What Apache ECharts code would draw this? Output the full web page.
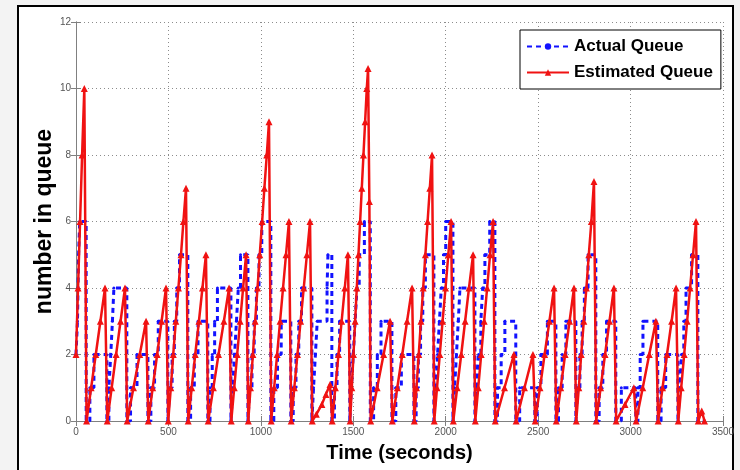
<!DOCTYPE html>
<html>
<head>
<meta charset="utf-8">
<script src="https://cdn.jsdelivr.net/npm/echarts@6/dist/echarts.min.js"></script>
<style>
html,body{margin:0;padding:0;background:#f3f3f3;}
#frame{position:absolute;left:17px;top:5px;width:717px;height:470px;border:2px solid #000;border-bottom:none;background:#fff;box-sizing:border-box;}
#chart{position:absolute;left:0;top:0;width:740px;height:470px;}
</style>
</head>
<body>
<div id="frame"></div>
<div id="chart"></div>
<script>
// ---- data ----
const xTicks = [0, 500, 1000, 1500, 2000, 2500, 3000, 3500];
const yTicks = [0, 2, 4, 6, 8, 10, 12];
const seriesNames = ['Actual Queue', 'Estimated Queue'];

// [time (s), number in queue]
const actualQueue = [
  [0,2],[8,3],[14,5],[20,6],[55,0],
  [75,1],[97,2],[167,0],
  [178,1],[188,2],[197,3],[205,4],[275,0],
  [295,1],[330,2],[389,0],
  [405,1],[425,2],[445,3],[497,0],
  [507,1],[520,2],[532,3],[545,4],[560,5],[605,0],
  [620,1],[640,2],[660,3],[713,0],
  [725,1],[737,2],[750,3],[765,4],[838,0],
  [848,1],[858,2],[868,3],[878,4],[890,5],[930,0],
  [940,1],[952,2],[964,3],[976,4],[990,5],[1005,6],[1054,0],
  [1070,1],[1090,2],[1110,3],[1162,0],
  [1175,1],[1190,2],[1205,3],[1220,4],[1276,0],
  [1285,1],[1295,2],[1305,3],[1358,4],[1363,5],[1384,0],
  [1398,1],[1412,2],[1426,3],[1481,0],
  [1490,1],[1500,2],[1510,3],[1520,4],[1532,5],[1560,6],[1592,0],
  [1610,1],[1630,2],[1650,3],[1709,0],
  [1730,1],[1760,2],[1828,0],
  [1840,1],[1852,2],[1864,3],[1876,4],[1890,5],[1936,0],
  [1946,1],[1956,2],[1966,3],[1976,4],[1988,5],[2000,6],[2039,0],
  [2048,1],[2058,2],[2068,3],[2077,4],[2158,0],
  [2168,1],[2178,2],[2190,3],[2200,4],[2212,5],[2238,6],[2266,0],
  [2280,1],[2300,2],[2320,3],[2379,0],
  [2400,1],[2482,0],
  [2495,1],[2515,2],[2550,3],[2596,0],
  [2610,1],[2630,2],[2650,3],[2704,0],
  [2714,1],[2726,2],[2738,3],[2750,4],[2770,5],[2812,0],
  [2830,1],[2850,2],[2870,3],[2920,0],
  [2950,1],[3028,0],
  [3040,1],[3052,2],[3067,3],[3147,0],
  [3165,1],[3190,2],[3256,0],
  [3266,1],[3276,2],[3288,3],[3300,4],[3330,5],[3364,0],
  [3400,0]
];

const estimatedQueue = [
  [0,2],[11,4],[22,6],[33,8],[45,10],[57,0],
  [82,1],[107,2],[132,3],[157,4],[169,0],
  [193,1],[217,2],[241,3],[265,4],[277,0],
  [311,1],[345,2],[379,3],[391,0],
  [415,1],[439,2],[463,3],[487,4],[499,0],
  [513,1],[526,2],[540,3],[554,4],[568,5],[581,6],[595,7],[607,0],
  [626,1],[645,2],[665,3],[684,4],[703,5],[715,0],
  [743,1],[771,2],[800,3],[828,4],[840,0],
  [856,1],[872,2],[888,3],[904,4],[920,5],[932,0],
  [944,1],[957,2],[969,3],[982,4],[994,5],[1007,6],[1019,7],[1032,8],[1044,9],[1056,0],
  [1072,1],[1088,2],[1104,3],[1120,4],[1136,5],[1152,6],[1164,0],
  [1181,1],[1198,2],[1215,3],[1232,4],[1249,5],[1266,6],[1278,0],
  [1300,0.2],[1330,0.5],[1352,0.8],[1374,1.1],[1386,0],
  [1403,1],[1420,2],[1437,3],[1454,4],[1471,5],[1483,0],
  [1492,1],[1501,2],[1510,3],[1519,4],[1528,5],[1537,6],[1546,7],[1555,8],[1564,9],[1573,10],[1580,10.6],[1587,6.6],[1594,0],
  [1629,1],[1664,2],[1699,3],[1711,0],
  [1738,1],[1765,2],[1791,3],[1818,4],[1830,0],
  [1842,1],[1854,2],[1866,3],[1878,4],[1890,5],[1902,6],[1914,7],[1926,8],[1938,0],
  [1953,1],[1968,2],[1983,3],[1999,4],[2014,5],[2029,6],[2041,0],
  [2062,1],[2084,2],[2105,3],[2126,4],[2148,5],[2160,0],
  [2176,1],[2192,2],[2208,3],[2224,4],[2240,5],[2256,6],[2268,0],
  [2318,1],[2369,2],[2381,0],
  [2426,1],[2472,2],[2484,0],
  [2510,1],[2535,2],[2561,3],[2586,4],[2598,0],
  [2622,1],[2646,2],[2670,3],[2694,4],[2706,0],
  [2720,1],[2733,2],[2747,3],[2761,4],[2774,5],[2788,6],[2802,7.2],[2814,0],
  [2838,1],[2862,2],[2886,3],[2910,4],[2922,0],
  [2970,0.5],[3018,1],[3030,0],
  [3066,1],[3101,2],[3137,3],[3149,0],
  [3173,1],[3197,2],[3222,3],[3246,4],[3258,0],
  [3274,1],[3290,2],[3306,3],[3322,4],[3338,5],[3354,6],[3366,0],
  [3385,0.3],[3400,0]
];

// ---- chart ----
const chart = echarts.init(document.getElementById('chart'), null, {renderer: 'canvas'});
const FONT = '"Liberation Sans", Arial, sans-serif';
const xMin = xTicks[0], xMax = xTicks[xTicks.length - 1], xStep = xTicks[1] - xTicks[0];
const yMin = yTicks[0], yMax = yTicks[yTicks.length - 1], yStep = yTicks[1] - yTicks[0];
const axisGray = '#808080';
const gridLine = {show: true, lineStyle: {color: '#8c8c8c', type: [1, 3], width: 1}};
const plain = v => String(v);

chart.setOption({
  animation: false,
  backgroundColor: 'transparent',
  grid: {left: 76, right: 17, top: 22, bottom: 49, containLabel: false},
  legend: {
    data: seriesNames,
    orient: 'vertical',
    left: 520, top: 30,
    backgroundColor: '#fff',
    borderColor: '#000',
    borderWidth: 1,
    padding: [8, 8, 8, 6],
    itemGap: 9,
    itemWidth: 42,
    itemHeight: 8,
    textStyle: {fontFamily: FONT, fontWeight: 'bold', fontSize: 17, color: '#000'}
  },
  xAxis: [{
    type: 'value', min: xMin, max: xMax, interval: xStep,
    name: 'Time (seconds)', nameLocation: 'middle', nameGap: 22,
    nameMoveOverlap: false,
    nameTextStyle: {fontFamily: FONT, fontWeight: 'bold', fontSize: 20, color: '#000'},
    axisLine: {show: true, lineStyle: {color: axisGray}},
    axisTick: {show: true, inside: true, length: 5, lineStyle: {color: axisGray}},
    axisLabel: {fontFamily: FONT, fontSize: 10, color: '#555', margin: 6, formatter: plain},
    splitLine: gridLine
  }, {
    type: 'value', min: xMin, max: xMax, interval: xStep, position: 'top',
    axisLine: {show: true, lineStyle: {color: axisGray}},
    axisTick: {show: true, inside: true, length: 5, lineStyle: {color: axisGray}},
    axisLabel: {show: false}, splitLine: {show: false}
  }],
  yAxis: [{
    type: 'value', min: yMin, max: yMax, interval: yStep,
    name: 'number in queue', nameLocation: 'middle', nameGap: 20,
    nameMoveOverlap: false,
    nameTextStyle: {fontFamily: FONT, fontWeight: 'bold', fontSize: 23, color: '#000'},
    axisLine: {show: true, lineStyle: {color: axisGray}},
    axisTick: {show: true, inside: true, length: 5, lineStyle: {color: axisGray}},
    axisLabel: {fontFamily: FONT, fontSize: 10, color: '#555', margin: 5, formatter: plain},
    splitLine: gridLine
  }, {
    type: 'value', min: yMin, max: yMax, interval: yStep, position: 'right',
    axisLine: {show: true, lineStyle: {color: axisGray}},
    axisTick: {show: true, inside: true, length: 5, lineStyle: {color: axisGray}},
    axisLabel: {show: false}, splitLine: {show: false}
  }],
  series: [{
    name: seriesNames[0],
    type: 'line',
    data: actualQueue,
    step: 'end',
    symbol: 'circle',
    symbolSize: 3,
    showSymbol: true,
    showAllSymbol: true,
    color: '#1212ff',
    itemStyle: {color: '#1212ff'},
    lineStyle: {color: '#1212ff', width: 3, type: [5, 4]},
    z: 2
  }, {
    name: seriesNames[1],
    type: 'line',
    data: estimatedQueue,
    symbol: 'triangle',
    symbolSize: 7,
    showSymbol: true,
    showAllSymbol: true,
    color: '#f01212',
    itemStyle: {color: '#f01212'},
    lineStyle: {color: '#f01212', width: 2.5},
    z: 3
  }]
});
</script>
</body>
</html>
